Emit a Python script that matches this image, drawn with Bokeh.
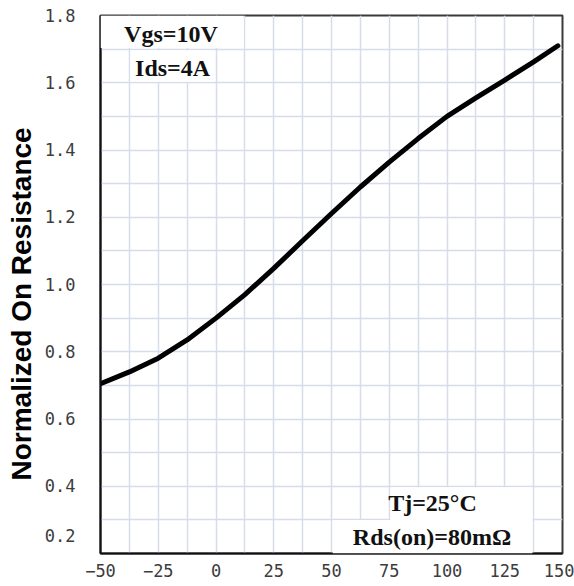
from bokeh.plotting import figure
from bokeh.models import FixedTicker, Range1d, BoxAnnotation, Label
from bokeh.embed import file_html
from bokeh.resources import INLINE

# Data
temperature = [-50, -37.5, -25, -12.5, 0, 12.5, 25, 37.5, 50, 62.5, 75, 87.5,
               100, 112.5, 125, 137.5, 148]
norm_res = [0.705, 0.740, 0.781, 0.835, 0.900, 0.970, 1.048, 1.130, 1.211, 1.290,
            1.364, 1.434, 1.500, 1.555, 1.608, 1.662, 1.710]

x_ticks = [-50, -25, 0, 25, 50, 75, 100, 125, 150]
x_minor = [-37.5, -12.5, 12.5, 37.5, 62.5, 87.5, 112.5, 137.5]
y_ticks = [0.2, 0.4, 0.6, 0.8, 1.0, 1.2, 1.4, 1.6, 1.8]
y_tick_labels = ["0.2\n", "0.4", "0.6", "0.8", "1.0", "1.2", "1.4", "1.6", "1.8"]
y_minor = [0.3, 0.5, 0.7, 0.9, 1.1, 1.3, 1.5, 1.7]

GRID = "#d6dcea"
TICK_FONT = "DejaVu Sans Mono"

p = figure(width=574, height=586, output_backend="svg", toolbar_location=None,
           x_range=Range1d(-50, 150), y_range=Range1d(0.2, 1.8),
           min_border_left=100, min_border_right=12, min_border_top=15,
           min_border_bottom=33)
p.background_fill_color = "white"
p.border_fill_color = "white"
p.outline_line_color = "#3a3a3a"
p.outline_line_width = 2

p.xaxis.ticker = FixedTicker(ticks=x_ticks, minor_ticks=x_minor)
p.yaxis.ticker = FixedTicker(ticks=y_ticks, minor_ticks=y_minor)
p.xgrid.ticker = p.xaxis.ticker
p.ygrid.ticker = p.yaxis.ticker

p.yaxis.major_label_overrides = {t: s for t, s in zip(y_ticks, y_tick_labels)}
p.yaxis.major_label_text_line_height = 1.75

for g in (p.xgrid, p.ygrid):
    g.grid_line_color = GRID
    g.grid_line_width = 1.5
    g.minor_grid_line_color = GRID
    g.minor_grid_line_width = 1.5

for ax in (p.xaxis, p.yaxis):
    ax.axis_line_color = "#111111"
    ax.axis_line_width = 2
    ax.major_tick_line_color = None
    ax.minor_tick_line_color = None
    ax.major_tick_in = 0
    ax.major_tick_out = 0
    ax.minor_tick_in = 0
    ax.minor_tick_out = 0
    ax.major_label_text_font = TICK_FONT
    ax.major_label_text_font_size = "17px"
    ax.major_label_text_color = "#3c3c3c"

p.xaxis.major_label_standoff = 10
p.yaxis.major_label_standoff = 25
p.yaxis.axis_label = "Normalized On Resistance" + "\u00a0" * 5
p.yaxis.axis_label_text_font = "Liberation Sans"
p.yaxis.axis_label_text_font_style = "bold"
p.yaxis.axis_label_text_font_size = "28px"
p.yaxis.axis_label_text_color = "black"
p.yaxis.axis_label_standoff = 5

p.line(temperature, norm_res, line_color="black", line_width=5,
       line_join="round", line_cap="round")

# white panels behind the annotations
for l, r, b, t in [(-50, 12, 1.703, 1.8), (-37, -0.5, 1.603, 1.697),
                   (75.5, 137, 0.3, 0.397), (50.5, 137, 0.2, 0.3)]:
    p.add_layout(BoxAnnotation(left=l, right=r, bottom=b, top=t,
                               fill_color="white", fill_alpha=1.0,
                               line_color=None))

notes = [("Vgs=10V", -19.5, 1.745), ("Ids=4A", -18.8, 1.644),
         ("Tj=25°C", 93.7, 0.350), ("Rds(on)=80mΩ", 93.5, 0.248)]
for txt, x, y in notes:
    p.add_layout(Label(x=x, y=y, text=txt, text_align="center",
                       text_baseline="middle", text_font="Liberation Serif",
                       text_font_style="bold", text_font_size="24px",
                       text_color="#111111"))

open("out.html", "w").write(file_html(p, INLINE))
